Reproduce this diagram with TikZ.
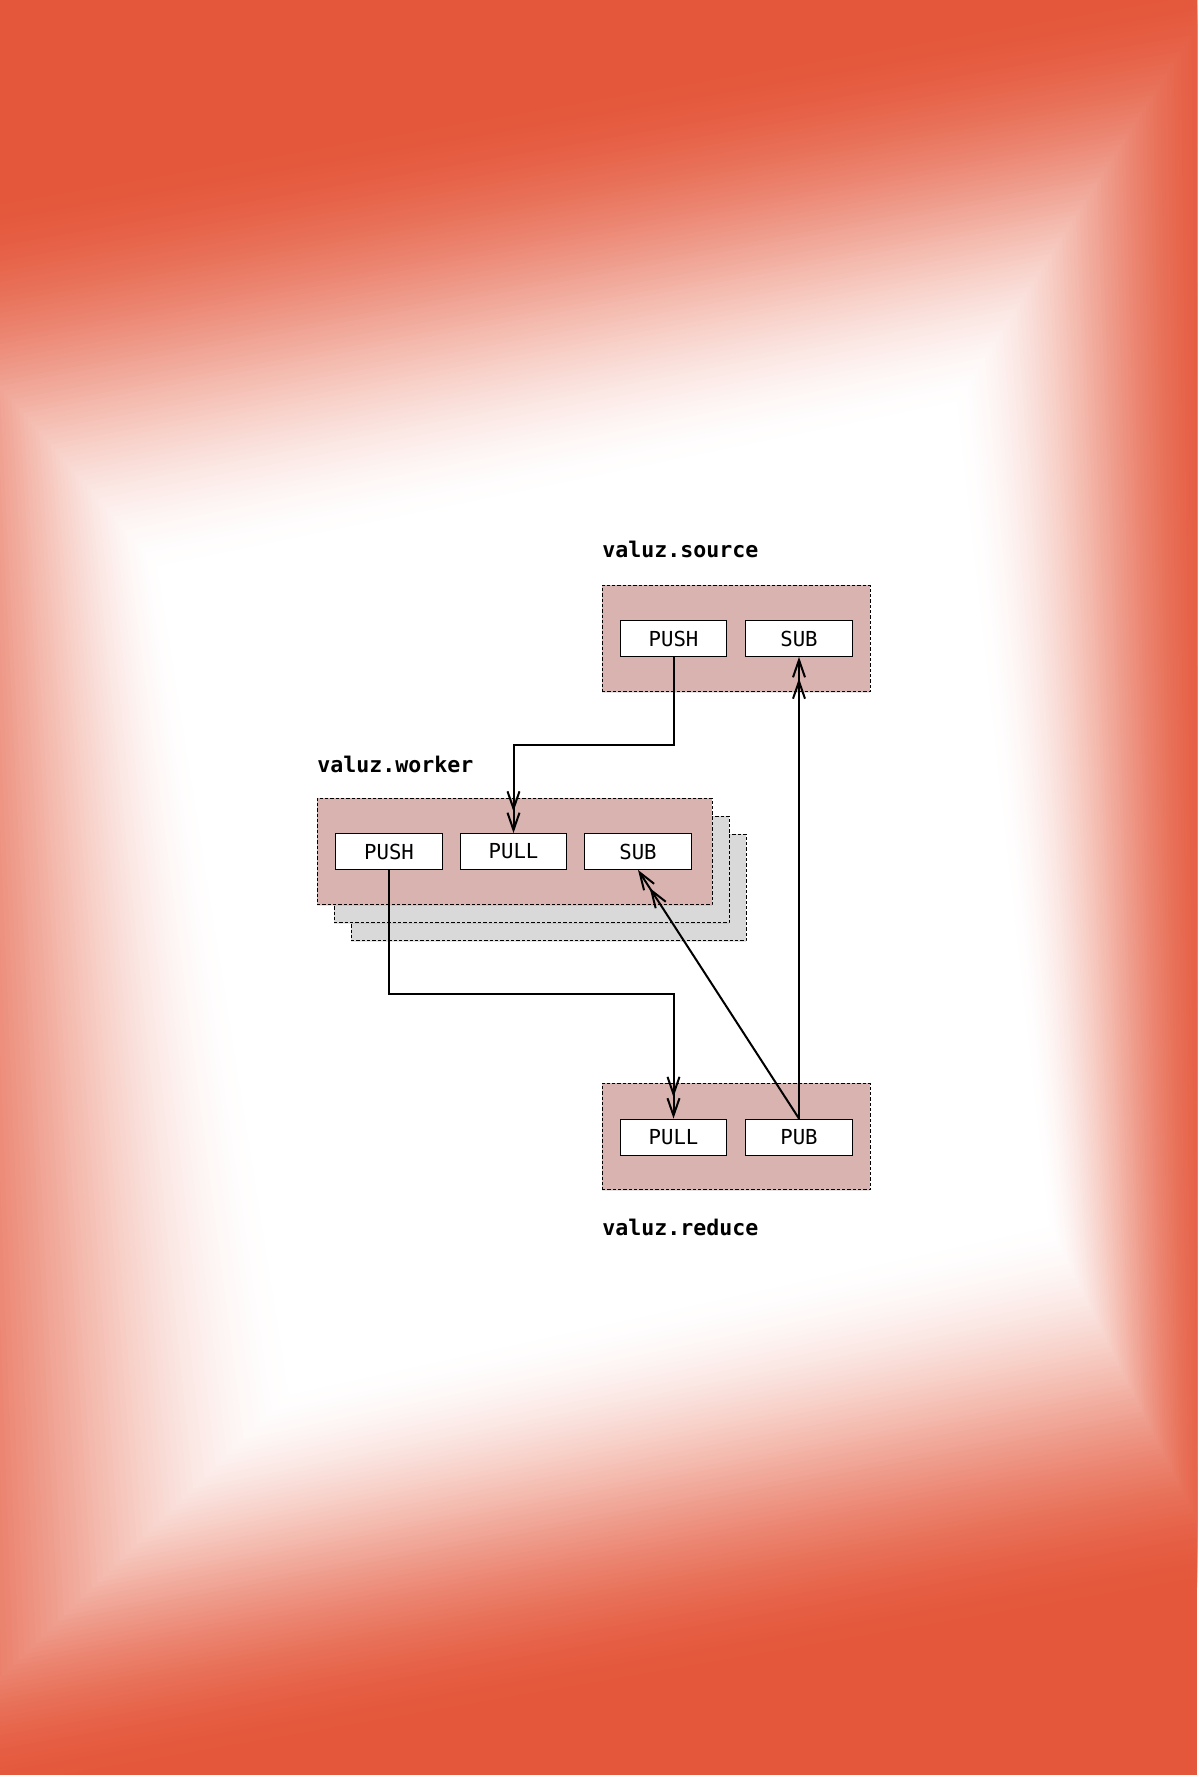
\documentclass[tikz,border=0pt]{standalone}
\usepackage{fontspec}
\setmonofont{DejaVu Sans Mono}
\usepackage{xcolor}
\usetikzlibrary{arrows.meta,calc,shadows}
\definecolor{bgred}{RGB}{228,87,59}
\definecolor{boxpink}{RGB}{217,179,175}
\definecolor{stackgray}{RGB}{217,217,217}

\begin{document}
\begin{tikzpicture}[
    x=0.75pt, y=-0.75pt,
    group/.style={draw, line width=0.6pt, dash pattern=on 2.5pt off 1.5pt, fill=boxpink, minimum height=80pt,
        drop shadow={shadow xshift=0pt, shadow yshift=-1.2pt, opacity=0.2}},
    stack/.style={group, fill=stackgray},
    sock/.style={draw, line width=0.6pt, fill=white, minimum width=80pt, minimum height=27pt, inner sep=0pt,
        font=\fontsize{15.5}{18}\selectfont\ttfamily},
    title/.style={anchor=base west, inner sep=0pt, font=\fontsize{16.2}{18}\selectfont\ttfamily\bfseries},
    flow/.style={-{Straight Barb[length=13pt,width=9pt,sep=0pt]Straight Barb[length=13pt,width=9pt]}, line width=1.5pt}
]
\useasboundingbox (0,0) rectangle (1197,1775);
\begin{scope}
\clip (0,0) rectangle (1197,1775);
\fill[bgred] (0,0) rectangle (1197,1775);
\coordinate (o1) at (-150,215);
\coordinate (o2) at (1230,-25);
\coordinate (o3) at (1230,1587);
\coordinate (o4) at (-150,1825);
\coordinate (i1) at (165,575);
\coordinate (i2) at (950,412);
\coordinate (i3) at (1045,1218);
\coordinate (i4) at (300,1384);
\foreach \k in {1,...,80}{
    \pgfmathsetmacro\t{\k/80}
    \pgfmathsetmacro\w{100*\t*\t*(3-2*\t)}
    \fill[white!\w!bgred] ($(o1)!\t!(i1)$) -- ($(o2)!\t!(i2)$) -- ($(o3)!\t!(i3)$) -- ($(o4)!\t!(i4)$) -- cycle;
}
\end{scope}

\node[title] (srclabel) at (602,557) {valuz.source};
\node[group, minimum width=201pt] (source) at (736,638.5) {};
\node[sock] (srcpush) at (673.5,638.5) {PUSH};
\node[sock] (srcsub) at (799,638.5) {SUB};

\node[title] (wrklabel) at (317,772) {valuz.worker};
\node[stack, minimum width=296.25pt] (worker3) at (548.5,887.5) {};
\node[stack, minimum width=296.25pt] (worker2) at (531.5,869.5) {};
\node[group, minimum width=296.25pt] (worker) at (514.5,851.5) {};
\node[sock] (wpush) at (389,851.5) {PUSH};
\node[sock] (wpull) at (513.5,851.5) {PULL};
\node[sock] (wsub) at (638,851.5) {SUB};

\node[group, minimum width=201pt] (reduce) at (736,1136.5) {};
\node[sock] (rpull) at (673.5,1137) {PULL};
\node[sock] (rpub) at (799,1137) {PUB};
\node[title] (redlabel) at (602,1235) {valuz.reduce};

\draw[flow] (srcpush.south) |- ($(srcpush.south)!0.5!(wpull.north)$) -| (wpull.north);
\draw[flow] (wpush.south) |- ($(wpush.south)!0.5!(rpull.north)$) -| (rpull.north);
\draw[flow] (rpub.north) -- (srcsub.south);
\draw[flow] (rpub.north) -- (wsub.south);
\end{tikzpicture}
\end{document}
